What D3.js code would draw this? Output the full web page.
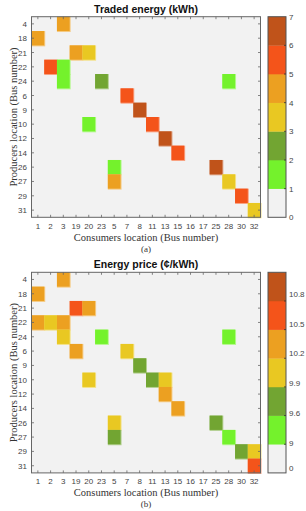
<!DOCTYPE html>
<html>
<head>
<meta charset="utf-8">
<script src="https://cdn.jsdelivr.net/npm/d3@7"></script>
<style>
  body { margin: 0; background: #fff; }
  svg { display: block; }
</style>
</head>
<body>
<div id="viz"></div>
<script>
// rows (producers) and columns (consumers), bus numbers
const producers = ["4", "18", "21", "22", "24", "6", "9", "10", "12", "14", "26", "27", "29", "31"]
const consumers = ["1", "2", "3", "19", "20", "23", "5", "7", "8", "11", "13", "15", "16", "17", "25", "28", "30", "32"]

// [producer, consumer, kWh]
const tradedEnergy = [
    ["4", "3", 4.5], ["18", "1", 4.5],
    ["21", "19", 4.4], ["21", "20", 3.5],
    ["22", "2", 5.4], ["22", "3", 1.5],
    ["24", "3", 1.4], ["24", "23", 2.5], ["24", "28", 1.6],
    ["6", "7", 5.5], ["9", "8", 6.5],
    ["10", "20", 1.5], ["10", "11", 5.4],
    ["12", "13", 6.4], ["14", "15", 5.5],
    ["26", "5", 1.8], ["26", "25", 6.3],
    ["27", "5", 4.6], ["27", "28", 3.6],
    ["29", "30", 5.4], ["31", "32", 3.5]
]

// [producer, consumer, c/kWh]
const energyPrice = [
    ["4", "3", 10.3], ["18", "1", 10.3],
    ["21", "19", 10.6], ["21", "20", 10.3],
    ["22", "1", 10.3], ["22", "2", 10.0], ["22", "3", 10.3],
    ["24", "3", 10.0], ["24", "23", 9.3], ["24", "28", 9.3],
    ["6", "19", 10.3], ["6", "7", 10.0],
    ["9", "8", 9.7],
    ["10", "20", 10.0], ["10", "11", 9.7], ["10", "13", 10.0],
    ["12", "13", 10.3], ["14", "15", 10.3],
    ["26", "5", 10.0], ["26", "25", 9.7],
    ["27", "5", 9.7], ["27", "28", 9.3],
    ["29", "30", 9.7], ["29", "32", 10.0],
    ["31", "32", 10.6]
]

const energyBreaks = [1, 2, 3, 4, 5, 6]
const energyLabels = ["0", "1", "2", "3", "4", "5", "6", "7"]
const priceBreaks = [9, 9.6, 9.9, 10.2, 10.5, 10.8]
const priceLabels = ["0", "9", "9.6", "9.9", "10.2", "10.5", "10.8"]

const binColors = ["#f2f2f2", "#74f22c", "#72a532", "#e9c822", "#eca021", "#f4541a", "#c0531a"]

const width = 306
const height = 511

const svg = d3.select("#viz").append("svg")
    .attr("width", width)
    .attr("height", height)

const sans = "'Liberation Sans', Arial, sans-serif"
const serif = "'Liberation Serif', 'Times New Roman', serif"

function drawPanel(offsetY, title, cells, breaks, labels, caption, shiftLabels) {
    const g = svg.append("g").attr("transform", `translate(0,${offsetY})`)

    const left = 31.5, right = 260.5, top = 16.7, bottom = 217.3

    const x = d3.scaleBand().domain(consumers).range([left, right])
    const y = d3.scaleBand().domain(producers).range([top, bottom])
    const color = d3.scaleThreshold().domain(breaks).range(binColors)

    // background (zero bin)
    g.append("rect")
        .attr("x", left).attr("y", top)
        .attr("width", right - left).attr("height", bottom - top)
        .attr("fill", binColors[0])

    // soft edge like the original raster
    g.selectAll("rect.edge").data(cells).join("rect")
        .attr("class", "edge")
        .attr("x", d => x(d[1]))
        .attr("y", d => y(d[0]))
        .attr("width", x.bandwidth() + 1)
        .attr("height", y.bandwidth() + 1)
        .attr("fill", d => d3.interpolateRgb(color(d[2]), "#ffffff")(0.45))

    g.selectAll("rect.cell").data(cells).join("rect")
        .attr("class", "cell")
        .attr("x", d => x(d[1]))
        .attr("y", d => y(d[0]))
        .attr("width", x.bandwidth())
        .attr("height", y.bandwidth())
        .attr("fill", d => color(d[2]))

    // frame
    g.append("rect")
        .attr("x", left).attr("y", top)
        .attr("width", right - left).attr("height", bottom - top)
        .attr("fill", "none")
        .attr("stroke", "#666")
        .attr("stroke-width", 1)

    // inward frame ticks
    const tk = 2.5
    consumers.forEach(c => {
        const cx = x(c) + x.bandwidth() / 2
        g.append("line").attr("x1", cx).attr("x2", cx).attr("y1", top).attr("y2", top + tk)
            .attr("stroke", "#666").attr("stroke-width", 0.8)
        g.append("line").attr("x1", cx).attr("x2", cx).attr("y1", bottom).attr("y2", bottom - tk)
            .attr("stroke", "#666").attr("stroke-width", 0.8)
    })
    producers.forEach(p => {
        const cy = y(p) + y.bandwidth() / 2
        g.append("line").attr("x1", left).attr("x2", left + tk).attr("y1", cy).attr("y2", cy)
            .attr("stroke", "#666").attr("stroke-width", 0.8)
        g.append("line").attr("x1", right).attr("x2", right - tk).attr("y1", cy).attr("y2", cy)
            .attr("stroke", "#666").attr("stroke-width", 0.8)
    })

    // tick labels
    g.selectAll("text.xt").data(consumers).join("text")
        .attr("class", "xt")
        .attr("x", d => x(d) + x.bandwidth() / 2)
        .attr("y", bottom + 11.5)
        .attr("text-anchor", "middle")
        .style("font-family", sans).style("font-size", "8px").attr("fill", "#444")
        .text(d => d)

    g.selectAll("text.yt").data(producers).join("text")
        .attr("class", "yt")
        .attr("x", left - 4.5)
        .attr("y", d => y(d) + y.bandwidth() / 2 + 3)
        .attr("text-anchor", "end")
        .style("font-family", sans).style("font-size", "8px").attr("fill", "#444")
        .text(d => d)

    // title and axis labels
    g.append("text")
        .attr("x", 146).attr("y", 12.5)
        .attr("text-anchor", "middle")
        .style("font-family", sans).style("font-size", "10.5px").style("font-weight", "bold")
        .attr("fill", "#111")
        .text(title)

    g.append("text")
        .attr("x", 146).attr("y", 240.5)
        .attr("text-anchor", "middle")
        .style("font-family", serif).style("font-size", "10.5px").attr("fill", "#333")
        .text("Consumers location (Bus number)")

    g.append("text")
        .attr("transform", `translate(16.5,${(top + bottom) / 2}) rotate(-90)`)
        .attr("text-anchor", "middle")
        .style("font-family", serif).style("font-size", "10.5px").attr("fill", "#333")
        .text("Producers location (Bus number)")

    g.append("text")
        .attr("x", 146).attr("y", 251.5)
        .attr("text-anchor", "middle")
        .style("font-family", serif).style("font-size", "9px").attr("fill", "#333")
        .text(caption)

    // colour bar
    const bx = 268, bw = 18
    const bins = d3.range(binColors.length)
    const by = d3.scaleBand().domain(bins).range([bottom, top])

    g.selectAll("rect.bin").data(bins).join("rect")
        .attr("class", "bin")
        .attr("x", bx).attr("y", d => by(d))
        .attr("width", bw).attr("height", by.bandwidth() + 0.3)
        .attr("fill", d => binColors[d])

    g.append("rect")
        .attr("x", bx).attr("y", top)
        .attr("width", bw).attr("height", bottom - top)
        .attr("fill", "none").attr("stroke", "#555").attr("stroke-width", 1)

    const edge = d3.scaleLinear().domain([0, binColors.length]).range([bottom, top])
    labels.forEach((lab, i) => {
        const yy = edge(i) - (shiftLabels ? i * 1.2 : 0)
        if (i > 0 && i < binColors.length) {
            g.append("line")
                .attr("x1", bx + bw).attr("x2", bx + bw - 2)
                .attr("y1", edge(i)).attr("y2", edge(i))
                .attr("stroke", "#333").attr("stroke-width", 0.8)
        }
        g.append("text")
            .attr("x", bx + bw + 3)
            .attr("y", (i === 0 && shiftLabels ? yy - 5 : yy) + 3)
            .style("font-family", sans).style("font-size", "8px").attr("fill", "#444")
            .text(lab)
    })
}

drawPanel(0, "Traded energy (kWh)", tradedEnergy, energyBreaks, energyLabels, "(a)", false)
drawPanel(255.6, "Energy price (\u00a2/kWh)", energyPrice, priceBreaks, priceLabels, "(b)", true)
</script>
</body>
</html>
